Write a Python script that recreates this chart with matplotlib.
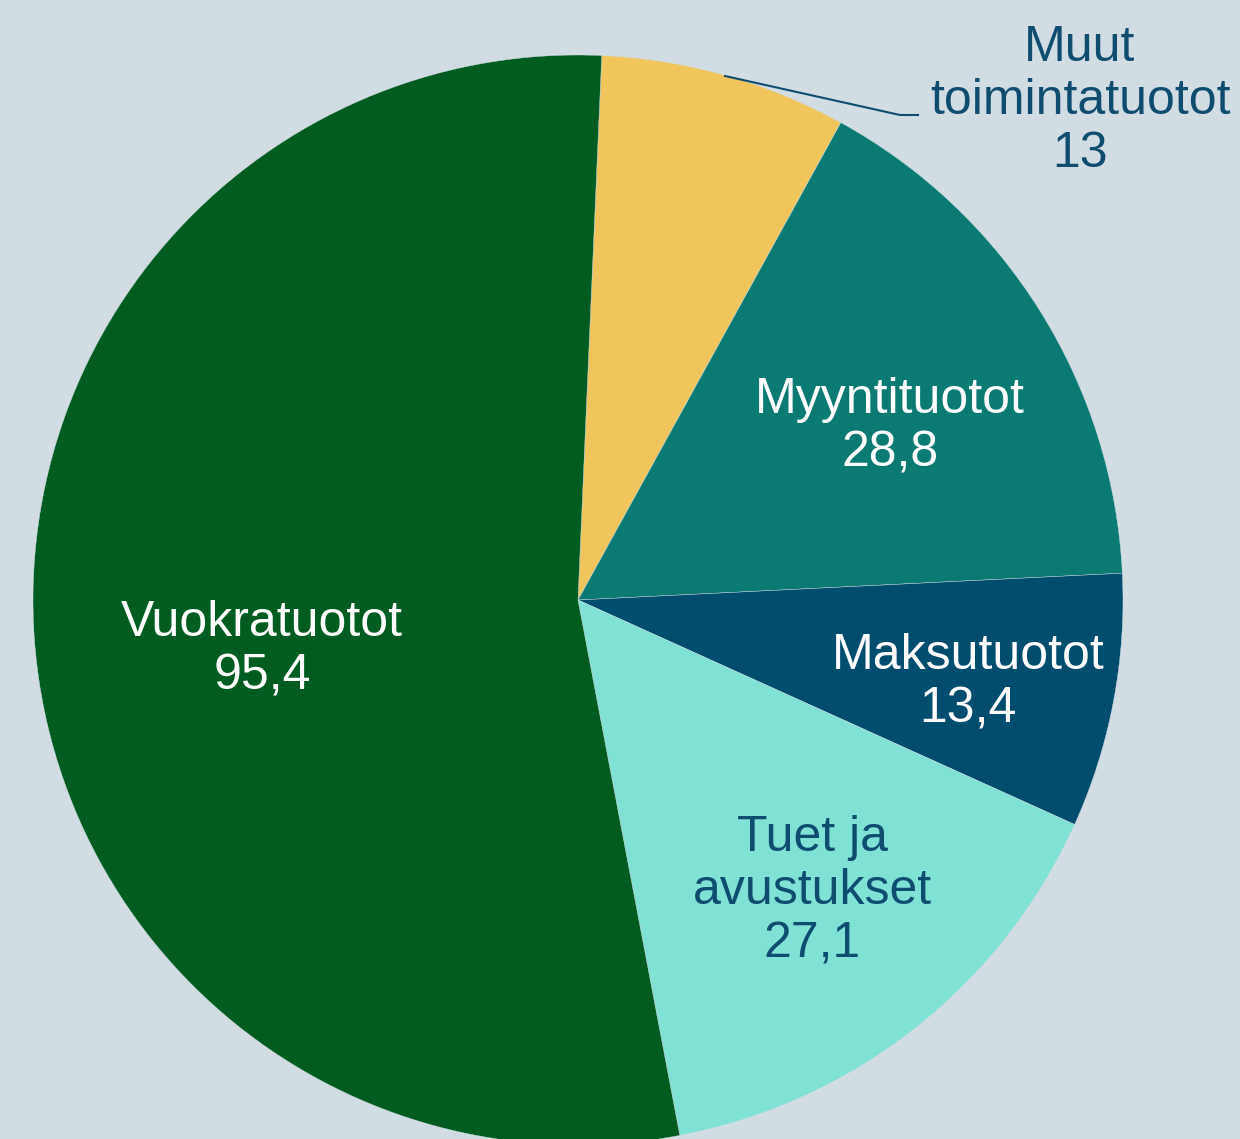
import matplotlib.pyplot as plt

# Data (in order, clockwise from top)
labels = ['Muut\ntoimintatuotot', 'Myyntituotot', 'Maksutuotot', 'Tuet ja\navustukset', 'Vuokratuotot']
values = [13, 28.8, 13.4, 27.1, 95.4]
value_labels = ['13', '28,8', '13,4', '27,1', '95,4']
colors = ['#f0c65c', '#0a7a73', '#004d6e', '#80e1d5', '#005c1f']
text_colors = ['#0f4d70', 'white', 'white', '#0f4d70', 'white']

bg = '#d1dde3'
W, H = 1240, 1139
cx, cy, R = 578, 600, 545  # pie centre / radius in pixels


def px(x, y):
    return (x - cx) / R, (cy - y) / R


fig = plt.figure(figsize=(W / 100, H / 100), dpi=100, facecolor=bg)
ax = fig.add_axes([0, 0, 1, 1])
ax.set_facecolor(bg)

wedges, _ = ax.pie(values, colors=colors, startangle=87.5, counterclock=False,
                   radius=1, center=(0, 0),
                   wedgeprops=dict(edgecolor=bg, linewidth=0.3))

ax.set_xlim(-cx / R, (W - cx) / R)
ax.set_ylim(-(H - cy) / R, cy / R)
ax.set_aspect('equal')
ax.axis('off')

# label positions (pixel centres of the text blocks)
label_pos = [(1080, 101), (890, 427), (968, 683), (812, 891), (262, 650)]

for lab, val, col, (x, y) in zip(labels, value_labels, text_colors, label_pos):
    tx, ty = px(x, y)
    ax.text(tx, ty, lab + '\n' + val, ha='center', va='center', color=col,
            fontsize=36, family='Liberation Sans', linespacing=1.2)

# leader line for "Muut toimintatuotot"
lx = [px(725, 76)[0], px(900, 115)[0], px(918, 115)[0]]
ly = [px(725, 76)[1], px(900, 115)[1], px(918, 115)[1]]
ax.plot(lx, ly, color='#0f4d70', linewidth=1.5)

fig.savefig('out.png', dpi=100, facecolor=bg)
